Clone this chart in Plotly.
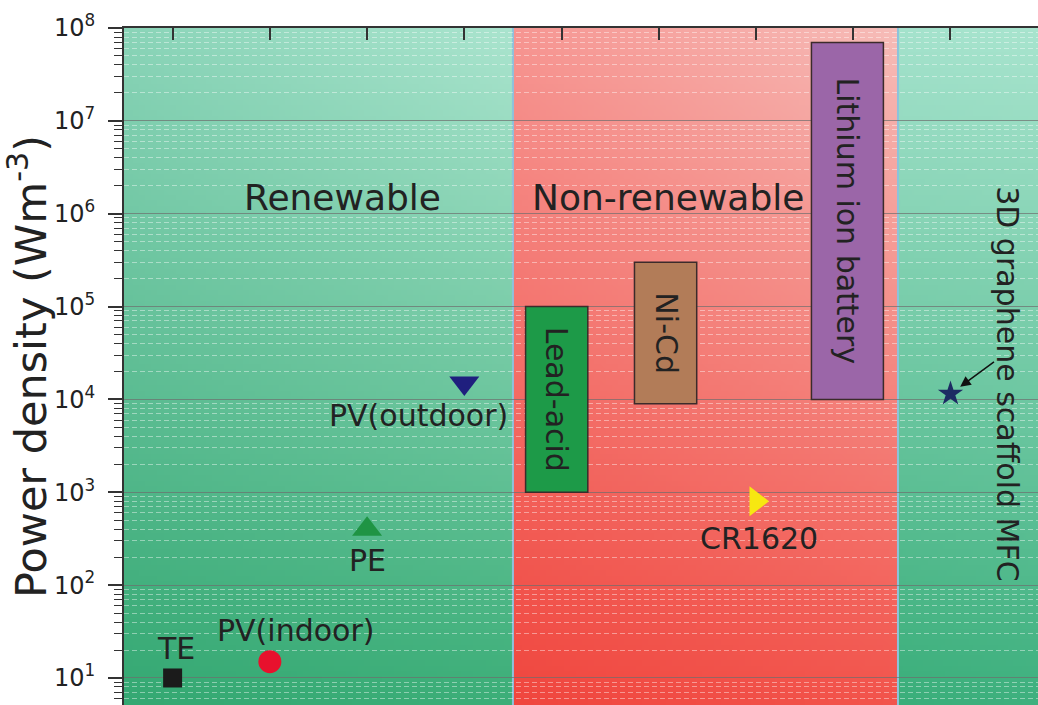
import base64
import struct
import zlib

import numpy as np
import plotly.graph_objects as go

# ---- data -----------------------------------------------------------------
# single-value power sources
devices = ["TE", "PV(indoor)", "PE", "PV(outdoor)", "CR1620", "3D graphene scaffold MFC"]
device_x = [1, 2, 3, 4, 7, 9]
device_power = [10, 15, 400, 15000, 800, 11500]  # W m^-3

# batteries drawn as ranges
batteries = ["Lead-acid", "Ni-Cd", "Lithium ion battery"]
battery_x = [4.95, 6.07, 7.94]
battery_width = [0.64, 0.64, 0.74]
battery_low = [1e3, 9e3, 1e4]
battery_high = [1e5, 3e5, 7e7]

# background regions along the x axis
region_names = ["Renewable", "Non-renewable", ""]
region_edges = [0.5, 4.5, 8.46, 9.9]

y_tick_exponents = [1, 2, 3, 4, 5, 6, 7, 8]
y_tick_labels = ["10<sup>%d</sup>" % e for e in y_tick_exponents]

# ---- styles ---------------------------------------------------------------
FONT = "DejaVu Sans"
INK = "#222222"
marker_symbols = ["square", "circle", "triangle-up", "triangle-down", "triangle-right", "star"]
marker_colors = ["#1b1b1b", "#e8112d", "#1f9444", "#1f1f7e", "#f7e711", "#1d2b63"]
marker_sizes = [19, 23, 26, 26, 26, 19]
battery_colors = ["#1d9a48", "#b27c58", "#9b66a8"]

# corner colours (top-left, top-right, bottom-left, bottom-right) of each region
region_corners = [
    [(138, 212, 184), (170, 228, 206), (52, 168, 114), (60, 174, 120)],
    [(246, 150, 146), (246, 188, 184), (240, 70, 62), (242, 84, 76)],
    [(164, 226, 204), (168, 228, 206), (58, 174, 122), (62, 176, 126)],
]

Y_RANGE = [0.709, 8]
X_RANGE = [region_edges[0], region_edges[-1]]


def gradient_png(corners, w=64, h=128):
    """Bilinear colour gradient encoded as a PNG data URI."""
    tl, tr, bl, br = [np.array(c, dtype=float) for c in corners]
    t = np.linspace(0, 1, h)[:, None, None]
    s = np.linspace(0, 1, w)[None, :, None]
    rgb = (1 - t) * ((1 - s) * tl + s * tr) + t * ((1 - s) * bl + s * br)
    rgb = np.clip(rgb.round(), 0, 255).astype(np.uint8)
    raw = b"".join(b"\x00" + rgb[i].tobytes() for i in range(h))

    def chunk(tag, data):
        body = tag + data
        return struct.pack(">I", len(data)) + body + struct.pack(">I", zlib.crc32(body) & 0xFFFFFFFF)

    png = (b"\x89PNG\r\n\x1a\n"
           + chunk(b"IHDR", struct.pack(">IIBBBBB", w, h, 8, 2, 0, 0, 0))
           + chunk(b"IDAT", zlib.compress(raw, 9))
           + chunk(b"IEND", b""))
    return "data:image/png;base64," + base64.b64encode(png).decode()


fig = go.Figure()

# battery ranges as floating bars
fig.add_trace(go.Bar(
    x=battery_x,
    y=[hi - lo for lo, hi in zip(battery_low, battery_high)],
    base=battery_low,
    width=battery_width,
    marker=dict(color=battery_colors, line=dict(color="#3b2b2b", width=1.5)),
    opacity=1,
    hoverinfo="skip",
    showlegend=False,
))

# device markers
fig.add_trace(go.Scatter(
    x=device_x,
    y=device_power,
    mode="markers",
    marker=dict(symbol=marker_symbols, color=marker_colors, size=marker_sizes,
                opacity=1, line=dict(width=0)),
    hoverinfo="skip",
    showlegend=False,
))

# gradient backgrounds
images = []
for i, corners in enumerate(region_corners):
    x0, x1 = region_edges[i], region_edges[i + 1]
    images.append(dict(source=gradient_png(corners), xref="x", yref="paper",
                       x=x0, y=1, sizex=x1 - x0, sizey=1, sizing="stretch",
                       xanchor="left", yanchor="top", layer="below"))

shapes = []
for xe in region_edges[1:-1]:
    shapes.append(dict(type="line", xref="x", yref="paper", x0=xe, x1=xe, y0=0, y1=1,
                       line=dict(color="#8cc3dc", width=2), layer="between"))

annotations = []
text_font = dict(family=FONT, size=30, color=INK)

# region titles
region_label_x = [2.75, 6.09]
for name, lx in zip(region_names[:2], region_label_x):
    annotations.append(dict(x=lx, y=6.17, xref="x", yref="y", text=name, showarrow=False,
                            font=dict(family=FONT, size=36, color=INK)))

# battery labels centred in each bar
for name, bx, lo, hi in zip(batteries, battery_x, battery_low, battery_high):
    annotations.append(dict(x=bx, y=(np.log10(lo) + np.log10(hi)) / 2, xref="x", yref="y",
                            text=name, textangle=90, showarrow=False, font=text_font))

# device labels offset from their markers (pixels)
label_shift = {
    "TE": (3, 29),
    "PV(indoor)": (26, 31),
    "PE": (0, -31),
    "PV(outdoor)": (-46, -32),
    "CR1620": (3, -37),
}
for name, dx, p in zip(devices, device_x, device_power):
    if name in label_shift:
        xs, ys = label_shift[name]
        annotations.append(dict(x=dx, y=np.log10(p), xref="x", yref="y", text=name,
                                showarrow=False, xshift=xs, yshift=ys, font=text_font))

# MFC label and pointer
mfc_x, mfc_p = device_x[-1], device_power[-1]
annotations.append(dict(x=9.59, y=4.166, xref="x", yref="y", text=devices[-1], textangle=90,
                        showarrow=False, font=text_font))
annotations.append(dict(x=mfc_x, y=np.log10(mfc_p), xref="x", yref="y", text="",
                        showarrow=True, ax=45, ay=-33, arrowhead=2, arrowsize=1.4,
                        arrowwidth=1.5, arrowcolor="#111111", standoff=12))

minor_vals = [m * 10 ** e for e in range(0, 8) for m in range(2, 10)]

fig.update_layout(
    width=1038,
    height=705,
    margin=dict(l=124, r=0, t=28, b=0),
    paper_bgcolor="white",
    plot_bgcolor="rgba(0,0,0,0)",
    barmode="overlay",
    images=images,
    shapes=shapes,
    annotations=annotations,
    font=dict(family=FONT, color=INK),
    xaxis=dict(
        range=X_RANGE, side="top", showline=True, linecolor="#333333", linewidth=2,
        ticks="inside", ticklen=12, tickwidth=1.5, tickcolor="#333333",
        tick0=1, dtick=1, showticklabels=False, showgrid=False, zeroline=False,
    ),
    yaxis=dict(
        type="log", range=Y_RANGE, showline=True, linecolor="#333333", linewidth=2,
        ticks="outside", ticklen=14, tickwidth=1.5, tickcolor="#333333",
        tickmode="array", tickvals=[10 ** e for e in y_tick_exponents], ticktext=y_tick_labels,
        tickfont=dict(family=FONT, size=24, color=INK), ticklabelstandoff=8,
        showgrid=True, gridcolor="rgba(110,110,110,0.7)", gridwidth=1.2,
        minor=dict(tickmode="array", tickvals=minor_vals, ticks="outside", ticklen=8,
                   tickwidth=1.2, tickcolor="#333333", showgrid=True,
                   gridcolor="rgba(255,255,255,0.42)", gridwidth=1, griddash="5px,3px"),
        title=dict(text="Power density (Wm<sup>-3</sup>)", standoff=8,
                   font=dict(family=FONT, size=43, color=INK)),
        zeroline=False,
    ),
    yaxis2=dict(
        type="log", range=Y_RANGE, overlaying="y", side="right", anchor="x",
        showline=False, ticks="inside", ticklen=6, tickwidth=1.5, tickcolor="#333333",
        tickmode="array", tickvals=[10 ** e for e in y_tick_exponents],
        showticklabels=False, showgrid=False, zeroline=False,
    ),
)

fig.write_html("out.html")
